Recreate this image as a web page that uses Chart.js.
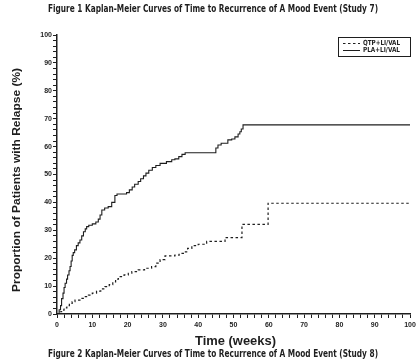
<!DOCTYPE html>
<html>
<head>
<meta charset="utf-8">
<script src="https://cdn.jsdelivr.net/npm/chart.js@4.4.1/dist/chart.umd.min.js"></script>
<style>
  html, body { margin:0; padding:0; background:#fff; }
  #wrap { width:419px; height:361px; }
</style>
</head>
<body>
<div id="wrap"><canvas id="km" width="419" height="361"></canvas></div>
<script>
const TITLE_TOP = 'Figure 1 Kaplan-Meier Curves of Time to Recurrence of A Mood Event (Study 7)';
const TITLE_BOTTOM = 'Figure 2 Kaplan-Meier Curves of Time to Recurrence of A Mood Event (Study 8)';
const X_TITLE = 'Time (weeks)';
const Y_TITLE = 'Proportion of Patients with Relapse (%)';

const SERIES_LABELS = ['QTP+LI/VAL', 'PLA+LI/VAL'];

// PLA+Li/VAL (solid)
const plaWeeks = [0, 0.6, 1.0, 1.3, 1.7, 2.0, 2.3, 2.7, 3.0, 3.4, 3.7, 4.0, 4.3, 4.6, 5.0, 5.5, 6.0, 6.5, 7.0, 7.5,
  8.0, 8.4, 9.0, 10.0, 11.0, 11.7, 12.2, 12.7, 13.5, 14.5, 15.5, 16.4, 17.0, 19.7, 20.5, 21.3, 22.0, 23.0, 23.7,
  24.5, 25.2, 26.0, 27.0, 28.0, 29.2, 31.0, 32.5, 33.4, 34.5, 35.4, 36.3, 45.0, 45.6, 46.5, 48.4, 49.5, 50.4,
  51.3, 51.8, 52.2, 52.7, 100];
const plaPct = [0, 1.5, 3, 5.5, 7.5, 9.5, 11, 12.5, 14, 15.5, 17, 19, 21, 22, 23, 24.5, 25.5, 26.5, 28, 29.5,
  30.5, 31.3, 31.8, 32.3, 33, 34, 35.5, 37.3, 38, 38.5, 40, 42.5, 43, 43.5, 44.5, 45.5, 46.5, 47.5, 48.5,
  49.5, 50.5, 51.5, 52.5, 53.2, 54, 54.6, 55.3, 55.6, 56.4, 57.2, 57.8, 59.5, 60.6, 61.2, 62.4, 62.7, 63.5,
  64.5, 65.3, 66.3, 67.8, 67.8];

// QTP+Li/VAL (dashed)
const qtpWeeks = [0, 0.8, 1.3, 2.0, 2.8, 3.5, 4.3, 5.1, 6.5, 7.8, 8.9, 10.0, 11.2, 12.4, 13.6, 14.8, 15.8, 16.6,
  17.4, 19.0, 20.2, 21.2, 23.0, 24.8, 26.8, 28.0, 29.2, 30.6, 33.4, 34.6, 35.8, 37.0, 38.2, 40.0, 42.4, 47.6,
  52.4, 59.8, 100];
const qtpPct = [0, 0.8, 1.4, 2.2, 3.0, 3.8, 4.4, 5.0, 5.6, 6.2, 6.8, 7.5, 8.2, 9.0, 9.8, 10.5, 11.5, 12.5,
  13.4, 14.0, 14.6, 15.2, 15.8, 16.4, 17.0, 18.2, 19.5, 20.8, 21.1, 21.7, 22.3, 23.5, 24.5, 25.0, 26.0, 27.4,
  32.1, 39.7, 39.7];

const X_MIN = 0, X_MAX = 100, Y_MIN = 0, Y_MAX = 100;

const toPoints = (xs, ys) => xs.map((x, i) => ({x, y: ys[i]}));

const INK = '#1e1e1e';
const NARROW = '"Liberation Sans Narrow", "DejaVu Sans Condensed", sans-serif';
const SANS = '"Liberation Sans", Arial, sans-serif';

// draw text squeezed horizontally to a target width (the source uses a condensed face)
function fitText(ctx, text, x, y, width, align) {
  const w = ctx.measureText(text).width;
  const k = Math.min(1.2, width / w);
  ctx.save();
  ctx.translate(x, y);
  ctx.scale(k, 1);
  ctx.textAlign = align || 'center';
  ctx.fillText(text, 0, 0);
  ctx.restore();
}

// titles, axis titles and boxed legend
const textPlugin = {
  id: 'kmText',
  afterDraw(chart) {
    const ctx = chart.ctx;
    ctx.save();
    ctx.fillStyle = INK;
    ctx.textBaseline = 'middle';
    ctx.font = 'bold 10px ' + NARROW;
    fitText(ctx, TITLE_TOP, 213, 9, 330);
    fitText(ctx, TITLE_BOTTOM, 213, 354, 330);

    ctx.font = 'bold 13px ' + SANS;
    fitText(ctx, X_TITLE, 235.5, 341, 81);

    ctx.translate(17, 180);
    ctx.rotate(-Math.PI / 2);
    ctx.font = 'bold 11.5px ' + SANS;
    fitText(ctx, Y_TITLE, 0, 0, 224);
    ctx.restore();

    // legend
    ctx.save();
    ctx.strokeStyle = INK;
    ctx.lineWidth = 1;
    ctx.strokeRect(338.5, 37.5, 72, 19);
    ctx.font = 'bold 7px ' + NARROW;
    ctx.fillStyle = INK;
    ctx.textBaseline = 'middle';
    chart.data.datasets.forEach((ds, i) => {
      const y = 43.5 + i * 7;
      ctx.setLineDash(ds.borderDash || []);
      ctx.lineWidth = 1;
      ctx.beginPath();
      ctx.moveTo(343, y);
      ctx.lineTo(360, y);
      ctx.stroke();
      fitText(ctx, ds.label, 363, y, 37, 'left');
    });
    ctx.restore();
  }
};

const tickFont = { family: SANS, size: 7, weight: 'bold' };

new Chart(document.getElementById('km'), {
  type: 'line',
  data: {
    datasets: [
      {
        label: SERIES_LABELS[0],
        data: toPoints(qtpWeeks, qtpPct),
        stepped: 'before',
        borderColor: INK,
        borderWidth: 1.2,
        borderDash: [2.5, 2.5],
        pointRadius: 0,
        fill: false
      },
      {
        label: SERIES_LABELS[1],
        data: toPoints(plaWeeks, plaPct),
        stepped: 'before',
        borderColor: INK,
        borderWidth: 1.1,
        pointRadius: 0,
        fill: false
      }
    ]
  },
  options: {
    responsive: false,
    animation: false,
    layout: { padding: { top: 35, right: 9, left: 0, bottom: 0 } },
    plugins: { legend: { display: false }, title: { display: false }, tooltip: { enabled: false } },
    scales: {
      x: {
        type: 'linear',
        min: X_MIN, max: X_MAX,
        afterFit(scale) { scale.height = 47; },
        ticks: {
          stepSize: 2,
          autoSkip: false,
          maxRotation: 0,
          padding: 3,
          color: INK,
          font: tickFont,
          callback: v => (v % 10 === 0 ? v : '')
        },
        grid: { drawOnChartArea: false, drawTicks: true, tickLength: 4, tickColor: INK, tickWidth: 1 },
        border: { display: true, color: INK, width: 1.5 }
      },
      y: {
        type: 'linear',
        min: Y_MIN, max: Y_MAX,
        afterFit(scale) { scale.width = 57; },
        ticks: {
          stepSize: 2,
          autoSkip: false,
          padding: 1,
          color: INK,
          font: tickFont,
          callback: v => (v % 10 === 0 ? v : '')
        },
        grid: { drawOnChartArea: false, drawTicks: true, tickLength: 4, tickColor: INK, tickWidth: 1 },
        border: { display: true, color: INK, width: 1.5 }
      }
    }
  },
  plugins: [textPlugin]
});
</script>
</body>
</html>
